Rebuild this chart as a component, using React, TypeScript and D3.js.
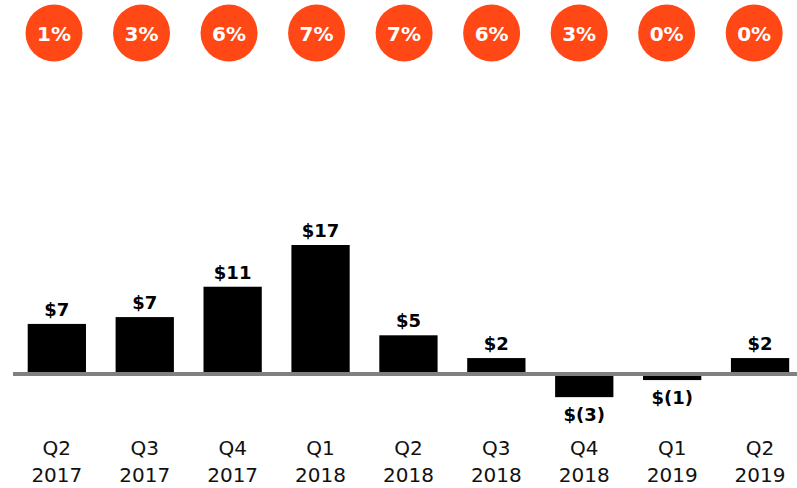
import React from "react";
import * as d3 from "d3";

const quarters = ["Q2", "Q3", "Q4", "Q1", "Q2", "Q3", "Q4", "Q1", "Q2"];
const years = ["2017", "2017", "2017", "2018", "2018", "2018", "2018", "2019", "2019"];
const values = [6.6, 7.5, 11.5, 17, 5.1, 2.1, -3.05, -0.8, 2.1];
const valueLabels = ["$7", "$7", "$11", "$17", "$5", "$2", "$(3)", "$(1)", "$2"];
const percents = ["1%", "3%", "6%", "7%", "7%", "6%", "3%", "0%", "0%"];

const W = 797;
const H = 488;
const FONT = "'DejaVu Sans', sans-serif";

export default function App() {
  const idx = quarters.map((_, i) => String(i));
  const x = d3
    .scaleBand<string>()
    .domain(idx)
    .range([27.7, 789.2])
    .paddingInner(0.337)
    .paddingOuter(0);
  const xc = d3.scalePoint<string>().domain(idx).range([54, 754.2]);
  const y = d3.scaleLinear().domain([0, 17]).range([374, 245]);

  return (
    <svg
      width={W}
      height={H}
      style={{ position: "absolute", left: 0, top: 0, display: "block" }}
      fontFamily={FONT}
    >
      <rect width={W} height={H} fill="#fff" />
      {percents.map((p, i) => (
        <g key={"c" + i}>
          <circle cx={xc(String(i))!} cy={33} r={28.5} fill="#FF4815" />
          <text
            x={xc(String(i))!}
            y={41}
            textAnchor="middle"
            fill="#fff"
            fontWeight="bold"
            fontSize={20}
          >
            {p}
          </text>
        </g>
      ))}
      {values.map((v, i) => {
        const bx = x(String(i))!;
        const top = Math.min(y(v), y(0));
        const h = Math.abs(y(v) - y(0));
        const cx = bx + x.bandwidth() / 2;
        return (
          <g key={"b" + i}>
            <rect x={bx} y={top} width={x.bandwidth()} height={h} fill="#000" />
            <text
              x={cx}
              y={v >= 0 ? y(v) - 8 : y(v) + 24}
              textAnchor="middle"
              fontWeight="bold"
              fontSize={18}
              fill="#000"
            >
              {valueLabels[i]}
            </text>
            <text x={cx} y={455} textAnchor="middle" fontSize={20} fill="#111">
              {quarters[i]}
            </text>
            <text x={cx} y={481.5} textAnchor="middle" fontSize={20} fill="#111">
              {years[i]}
            </text>
          </g>
        );
      })}
      <line x1={13} x2={W} y1={y(0)} y2={y(0)} stroke="#808080" strokeWidth={4} />
    </svg>
  );
}
